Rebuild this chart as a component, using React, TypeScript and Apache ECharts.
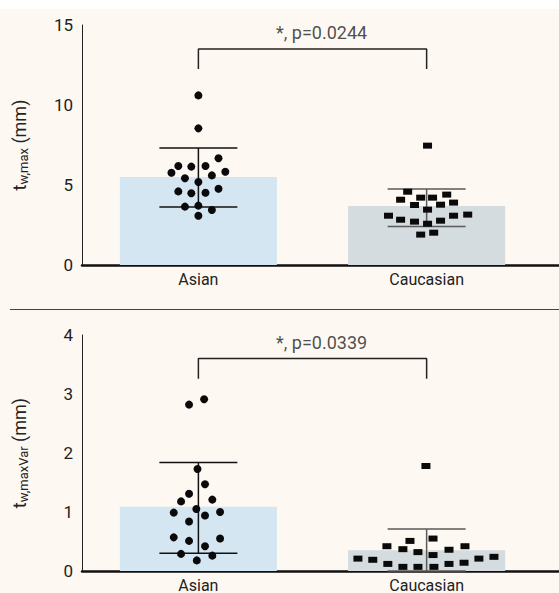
import React, { useEffect, useRef } from "react";
import * as echarts from "echarts";

const categories = ["Asian", "Caucasian"];

// Panel 1: t_w,max (mm)
const maxMeans = [5.5, 3.69];
const maxUpper = [7.31, 4.75];
const maxLower = [3.63, 2.4];
const maxAsian = [10.6, 8.54, 6.67, 6.19, 6.15, 6.19, 5.77, 5.83, 5.42, 5.6, 5.19, 4.6, 4.48, 4.52, 4.77, 3.65, 3.71, 3.44, 3.08];
const maxAsianJitter = [0, 0, 0.088, -0.088, -0.031, 0.031, -0.118, 0.118, -0.059, 0.059, 0, -0.088, -0.031, 0.031, 0.088, -0.059, 0, 0.059, 0];
const maxCauc = [7.46, 4.58, 4.08, 4.21, 4.21, 4.4, 3.75, 3.77, 3.9, 3.46, 3.08, 2.83, 2.71, 2.58, 2.77, 3.08, 3.15, 1.9, 2.02];
const maxCaucJitter = [0.004, -0.083, -0.114, -0.026, 0.026, 0.088, -0.053, 0.061, 0.118, 0.004, -0.167, -0.114, -0.053, 0.004, 0.061, 0.118, 0.18, -0.026, 0.031];
const maxBracket = [12.25, 13.5];
const maxPText = "*, p=0.0244";
const maxTicks = { min: 0, max: 15, interval: 5 };

// Panel 2: t_w,maxVar (mm)
const varMeans = [1.09, 0.35];
const varUpper = [1.84, 0.71];
const varLower = [0.3, 0.0];
const varAsian = [2.82, 2.91, 1.73, 1.47, 1.31, 1.18, 1.21, 1.05, 0.99, 0.94, 1.0, 0.84, 0.57, 0.51, 0.55, 0.42, 0.29, 0.26, 0.18];
const varAsianJitter = [-0.041, 0.025, -0.004, 0.029, -0.041, -0.076, 0.061, -0.009, -0.108, 0.029, 0.095, -0.041, -0.108, -0.041, 0.095, 0.029, -0.076, 0.061, -0.007];
const varCauc = [1.78, 0.55, 0.51, 0.42, 0.37, 0.42, 0.36, 0.32, 0.27, 0.21, 0.19, 0.21, 0.24, 0.12, 0.12, 0.14, 0.07, 0.07, 0.07];
const varCaucJitter = [-0.003, 0.028, -0.073, -0.174, -0.104, 0.168, 0.098, -0.038, 0.028, -0.301, -0.236, 0.229, 0.295, -0.17, 0.098, 0.164, -0.104, -0.038, 0.032];
const varBracket = [3.26, 3.6];
const varPText = "*, p=0.0339";
const varTicks = { min: 0, max: 4, interval: 1 };

const FONT = "Roboto, 'Noto Sans', sans-serif";
const BG = "#fdf8f2";
const barColors = ["#d4e6f1", "#d4dcdf"];
const errColors = ["#111111", "#5a5a5a"];

function panel(
  g: number,
  means: number[],
  upper: number[],
  lower: number[],
  asian: number[],
  asianJ: number[],
  cauc: number[],
  caucJ: number[],
  bracket: number[],
  pText: string,
  ticks: { min: number; max: number; interval: number },
  sub: string
) {
  const xAxis = {
    type: "value",
    gridIndex: g,
    min: -0.51,
    max: 1.58,
    splitLine: { show: false },
    axisTick: { show: false },
    axisLine: { show: true, onZero: false, lineStyle: { color: "#111", width: 2.5 } },
    axisLabel: {
      customValues: [0, 1],
      formatter: (v: number) => categories[Math.round(v)] ?? "",
      color: "#222",
      fontSize: 16,
      fontFamily: FONT,
      margin: 6,
    },
  };
  const yAxis = {
    type: "value",
    gridIndex: g,
    min: ticks.min,
    max: ticks.max,
    interval: ticks.interval,
    splitLine: { show: false },
    axisTick: { show: false },
    axisLine: { show: true, onZero: false, lineStyle: { color: "#222", width: 1 } },
    axisLabel: { color: "#222", fontSize: 17, fontFamily: FONT, margin: 9 },
    name: `{t|t}{s|${sub}}{t| (mm)}`,
    nameLocation: "middle",
    nameGap: 52,
    nameTextStyle: {
      fontSize: 18,
      rich: {
        t: { fontSize: 18, fontFamily: FONT, color: "#222", lineHeight: 22 },
        s: { fontSize: 13, fontFamily: FONT, color: "#222", lineHeight: 14, verticalAlign: "bottom" },
      },
    },
  };
  const series: any[] = [
    {
      type: "bar",
      xAxisIndex: g,
      yAxisIndex: g,
      barWidth: 157,
      data: means.map((m, i) => ({ value: [i, m], itemStyle: { color: barColors[i] } })),
      z: 1,
    },
    {
      type: "custom",
      xAxisIndex: g,
      yAxisIndex: g,
      z: 2,
      data: means.map((_, i) => [i, lower[i], upper[i]]),
      renderItem: (params: any, api: any) => {
        const x = api.value(0);
        const pHi = api.coord([x, api.value(2)]);
        const pLo = api.coord([x, api.value(1)]);
        const half = 39;
        const stroke = errColors[params.dataIndex];
        const st = { stroke, lineWidth: 1.5 };
        return {
          type: "group",
          children: [
            { type: "line", shape: { x1: pHi[0], y1: pHi[1], x2: pLo[0], y2: pLo[1] }, style: st },
            { type: "line", shape: { x1: pHi[0] - half, y1: pHi[1], x2: pHi[0] + half, y2: pHi[1] }, style: st },
            { type: "line", shape: { x1: pLo[0] - half, y1: pLo[1], x2: pLo[0] + half, y2: pLo[1] }, style: st },
          ],
        };
      },
    },
    {
      type: "line",
      xAxisIndex: g,
      yAxisIndex: g,
      z: 3,
      symbol: "none",
      lineStyle: { color: "#222", width: 1.5 },
      data: [
        [0, bracket[0]],
        [0, bracket[1]],
        [1, bracket[1]],
        [1, bracket[0]],
      ],
    },
    {
      type: "scatter",
      xAxisIndex: g,
      yAxisIndex: g,
      z: 4,
      symbol: "circle",
      symbolSize: 8,
      itemStyle: { color: "#0a0a0a", opacity: 1 },
      data: asian.map((v, i) => [0 + asianJ[i], v]),
    },
    {
      type: "scatter",
      xAxisIndex: g,
      yAxisIndex: g,
      z: 4,
      symbol: "rect",
      symbolSize: [9, 6],
      itemStyle: { color: "#0a0a0a", opacity: 1 },
      data: cauc.map((v, i) => [1 + caucJ[i], v]),
    },
    {
      type: "scatter",
      xAxisIndex: g,
      yAxisIndex: g,
      z: 5,
      symbolSize: 1,
      itemStyle: { color: "rgba(0,0,0,0)" },
      label: {
        show: true,
        position: "inside",
        formatter: pText,
        color: "#222",
        fontSize: 18,
        fontFamily: FONT,
      },
      data: [[0.54, bracket[1] + (ticks.max - ticks.min) * 0.067]],
    },
  ];
  return { xAxis, yAxis, series };
}

export default function App() {
  const ref = useRef<HTMLDivElement>(null);
  useEffect(() => {
    document.body.style.margin = "0";
    const chart = echarts.init(ref.current!, null, { renderer: "svg" });
    const p1 = panel(0, maxMeans, maxUpper, maxLower, maxAsian, maxAsianJitter, maxCauc, maxCaucJitter, maxBracket, maxPText, maxTicks, "w,max");
    const p2 = panel(1, varMeans, varUpper, varLower, varAsian, varAsianJitter, varCauc, varCaucJitter, varBracket, varPText, varTicks, "w,maxVar");
    chart.setOption({
      animation: false,
      backgroundColor: BG,
      textStyle: { fontFamily: FONT },
      grid: [
        { left: 82, right: 0, top: 25, height: 240 },
        { left: 82, right: 0, top: 335, height: 239 },
      ],
      xAxis: [p1.xAxis, p2.xAxis],
      yAxis: [p1.yAxis, p2.yAxis],
      series: [...p1.series, ...p2.series],
      graphic: [
        { type: "rect", shape: { x: 0, y: 0, width: 559, height: 9 }, style: { fill: "#ffffff" }, silent: true },
        { type: "line", shape: { x1: 10, y1: 309.5, x2: 559, y2: 309.5 }, style: { stroke: "#444", lineWidth: 1 }, silent: true },
      ],
    });
    return () => chart.dispose();
  }, []);
  return <div ref={ref} style={{ width: 559, height: 593 }} />;
}
